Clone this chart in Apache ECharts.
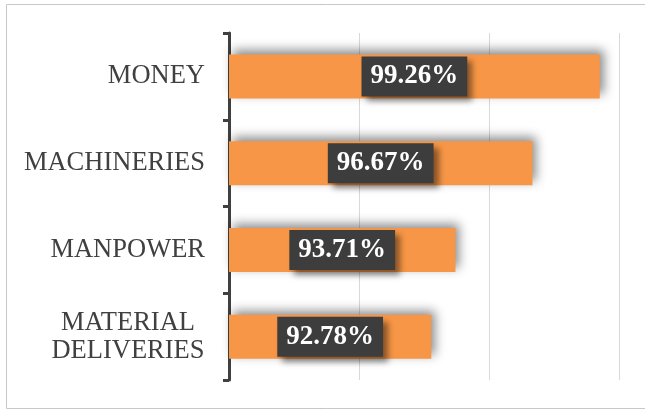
<!DOCTYPE html>
<html>
<head>
<meta charset="utf-8">
<script src="https://cdn.jsdelivr.net/npm/echarts@6/dist/echarts.min.js"></script>
<style>
  html, body { margin: 0; padding: 0; background: #fff; }
  #chart { width: 645px; height: 410px; }
</style>
</head>
<body>
<div id="chart"></div>
<script>
// categories, top to bottom
var categories = ['MONEY', 'MACHINERIES', 'MANPOWER', 'MATERIAL\nDELIVERIES'];
// share in %
var values = [99.26, 96.67, 93.71, 92.78];

var chart = echarts.init(document.getElementById('chart'));

var option = {
  backgroundColor: '#fff',
  animation: false,
  graphic: [{
    type: 'rect',
    shape: { x: 6.5, y: 4.5, width: 650, height: 404 },
    style: { fill: 'none', stroke: '#c8c8c8', lineWidth: 1 },
    silent: true
  }],
  grid: {
    left: 229,
    right: 26,
    top: 33,
    bottom: 30
  },
  xAxis: {
    type: 'value',
    min: 85,
    max: 100,
    interval: 5,
    axisLine: { show: false },
    axisTick: { show: false },
    axisLabel: { show: false },
    splitLine: { lineStyle: { color: '#d9d9d9', width: 1 } }
  },
  yAxis: {
    type: 'category',
    inverse: true,
    data: categories,
    axisLine: { lineStyle: { color: '#404040', width: 3 } },
    axisTick: { show: true, length: 6, lineStyle: { color: '#404040', width: 3 } },
    axisLabel: {
      margin: 24,
      color: '#404040',
      fontFamily: 'Liberation Serif',
      fontSize: 26.5,
      lineHeight: 28,
      formatter: function (value) {
        if (value.indexOf('\n') >= 0) {
          // centre the two lines within the block
          return value.split('\n').map(function (s) { return '{c|' + s + '}'; }).join('\n');
        }
        return value;
      },
      rich: {
        c: {
          width: 154,
          align: 'center',
          color: '#404040',
          fontFamily: 'Liberation Serif',
          fontSize: 26.5,
          lineHeight: 28
        }
      }
    }
  },
  series: [{
    type: 'bar',
    data: values,
    barWidth: 44,
    itemStyle: {
      color: '#F79646',
      shadowColor: 'rgba(0,0,0,0.45)',
      shadowBlur: 10,
      shadowOffsetX: 4,
      shadowOffsetY: -4
    },
    label: {
      show: true,
      position: 'inside',
      formatter: function (p) { return p.value.toFixed(2) + '%'; },
      color: '#fff',
      fontFamily: 'Liberation Serif',
      fontWeight: 'bold',
      fontSize: 27,
      backgroundColor: '#3d3d3d',
      padding: [8, 9, 5, 9],
      shadowColor: 'rgba(0,0,0,0.45)',
      shadowBlur: 6,
      shadowOffsetX: 5,
      shadowOffsetY: 5
    }
  }]
};

chart.setOption(option);
</script>
</body>
</html>
